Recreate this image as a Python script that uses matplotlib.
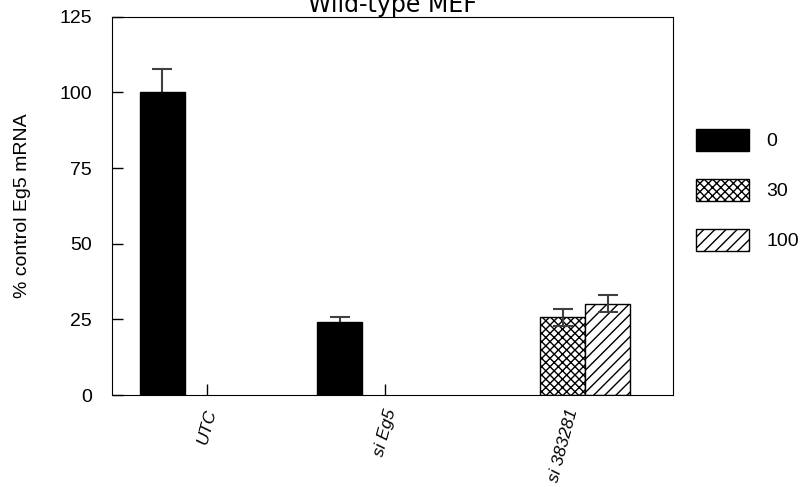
import numpy as np
import matplotlib
matplotlib.use("Agg")
import matplotlib.pyplot as plt

plt.rcParams['font.family'] = ['Liberation Sans', 'DejaVu Sans']
plt.rcParams['hatch.linewidth'] = 1.0

groups = ['UTC', 'si Eg5', 'si 383281']
doses = ['0', '30', '100']

# % control Eg5 mRNA per dose, nan where a dose was not run
mrna_0 = [100.0, 24.0, np.nan]
mrna_30 = [np.nan, np.nan, 25.7]
mrna_100 = [np.nan, np.nan, 30.2]

err_0 = [7.8, 1.8, np.nan]
err_30 = [np.nan, np.nan, 2.8]
err_100 = [np.nan, np.nan, 2.8]

yticks = [0, 25, 50, 75, 100, 125]

fig = plt.figure(figsize=(8.03, 4.87), dpi=100)
ax = fig.add_axes([0.1395, 0.1889, 0.6985, 0.7768])

x = np.arange(len(groups))
w = 0.253
series = [(mrna_0, err_0, 'black', ''),
          (mrna_30, err_30, 'white', 'xxxx'),
          (mrna_100, err_100, 'white', '///')]

for i, (vals, errs, color, hatch) in enumerate(series):
    pos = x + (i - 1) * w
    ax.bar(pos, vals, width=w, color=color, edgecolor='black',
           linewidth=1.0, hatch=hatch, label=doses[i], zorder=2)
    # solid bars hide the lower whisker, hatched ones show it
    ez = 1 if hatch == '' else 3
    ax.errorbar(pos, vals, yerr=errs, fmt='none', ecolor='#404040',
                elinewidth=1.5, capsize=7.5, capthick=1.5, zorder=ez)

ax.set_xlim(-0.534, 2.618)
ax.set_ylim(0, 125)
ax.set_yticks(yticks)
ax.set_xticks(x)
ax.set_xticklabels(groups, rotation=75, style='italic', fontsize=12.5)
ax.tick_params(axis='y', direction='in', length=8, width=1, pad=14.5,
               labelsize=14, right=False)
ax.tick_params(axis='x', direction='in', length=8, width=1, pad=9,
               top=False)
ax.set_ylabel('% control Eg5 mRNA', fontsize=14)
ax.yaxis.set_label_coords(-0.145, 0.5)

ax.set_title('Wild-type MEF', family='DejaVu Sans', fontsize=17, pad=2.5)

ax.legend(loc='upper left', bbox_to_anchor=(696 / 803, 1 - 129 / 487),
          bbox_transform=fig.transFigure, frameon=False, fontsize=14,
          handlelength=2.73, handleheight=1.35, labelspacing=1.45,
          handletextpad=0.88, borderpad=0, borderaxespad=0)

fig.savefig('out.png', dpi=100)
